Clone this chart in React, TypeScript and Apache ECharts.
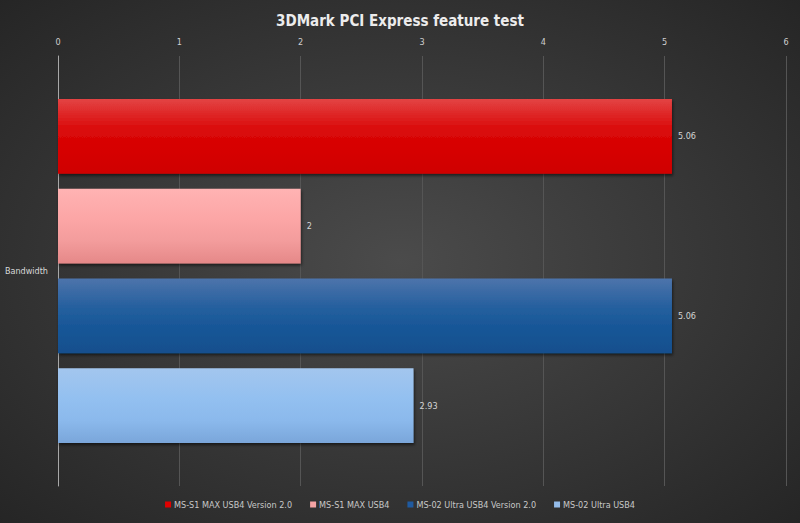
import React, { useEffect, useRef } from "react";
import * as echarts from "echarts";

const categories = ["Bandwidth"];
const seriesNames = [
  "MS-S1 MAX USB4 Version 2.0",
  "MS-S1 MAX USB4",
  "MS-02 Ultra USB4 Version 2.0",
  "MS-02 Ultra USB4",
];
const seriesValues = [[5.06], [2], [5.06], [2.93]];
const xTicks = [0, 1, 2, 3, 4, 5, 6];

const gradients = [
  ["#e34444", "#da0a0a", "#d60000", "#cf0000"],
  ["#ffb3b3", "#fca6a6", "#f39c9c", "#e58888"],
  ["#4d74ab", "#245f9e", "#155596", "#134f8d"],
  ["#a3c6ee", "#93c0f0", "#8bb9ec", "#7aa6da"],
];
const legendColors = ["#e00000", "#f4a3a3", "#1f5aa0", "#94bce9"];

const FONT = "'DejaVu Sans Condensed', 'Liberation Sans Narrow', 'DejaVu Sans', sans-serif";

export default function App() {
  const ref = useRef<HTMLDivElement>(null);
  useEffect(() => {
    if (!ref.current) return;
    const chart = echarts.init(ref.current, null, { renderer: "svg" });
    const series = seriesNames.map((name, i) => ({
      name,
      type: "bar",
      data: seriesValues[i],
      barGap: "20%",
      barCategoryGap: "20%",
      itemStyle: {
        color: new echarts.graphic.LinearGradient(0, 0, 0, 1, [
          { offset: 0, color: gradients[i][0] },
          { offset: 0.4, color: gradients[i][1] },
          { offset: 0.7, color: gradients[i][2] },
          { offset: 1, color: gradients[i][3] },
        ]),
        shadowColor: "rgba(0,0,0,0.55)",
        shadowBlur: 3,
        shadowOffsetY: 2,
        shadowOffsetX: 1,
      },
      label: {
        show: true,
        position: "right",
        distance: 6,
        color: "#d4d4d4",
        fontSize: 9,
        fontFamily: FONT,
      },
    }));
    chart.setOption({
      animation: false,
      backgroundColor: {
        type: "radial",
        x: 0.5,
        y: 0.5,
        r: 0.75,
        colorStops: [
          { offset: 0, color: "#4b4b4b" },
          { offset: 1, color: "#232323" },
        ],
      },
      title: {
        text: "3DMark PCI Express feature test",
        left: "center",
        top: 8,
        textStyle: {
          color: "#ececec",
          fontSize: 15,
          fontWeight: "bold",
          fontFamily: FONT,
        },
      },
      legend: {
        data: seriesNames.map((n, i) => ({ name: n, itemStyle: { color: legendColors[i] } })),
        bottom: 9,
        left: "center",
        icon: "rect",
        itemWidth: 6,
        itemHeight: 6,
        itemGap: 18,
        textStyle: { color: "#c8c8c8", fontSize: 9, fontFamily: FONT, padding: [0, 0, 0, -2] },
      },
      grid: { left: 58, right: 14, top: 56, bottom: 37, containLabel: false },
      xAxis: {
        type: "value",
        position: "top",
        min: xTicks[0],
        max: xTicks[xTicks.length - 1],
        interval: 1,
        axisLine: { show: false },
        axisTick: { show: false },
        axisLabel: { color: "#cfcfcf", fontSize: 9, fontFamily: FONT, margin: 10 },
        splitLine: { show: true, lineStyle: { color: "#555555", width: 1 } },
      },
      yAxis: {
        type: "category",
        data: categories,
        inverse: true,
        axisLine: { show: true, lineStyle: { color: "#a8a8a8", width: 1 } },
        axisTick: { show: false },
        axisLabel: { color: "#d8d8d8", fontSize: 9, fontFamily: FONT, margin: 10 },
      },
      series,
    });
    return () => chart.dispose();
  }, []);
  return <div ref={ref} style={{ width: 800, height: 523, position: "absolute", left: 0, top: 0 }} />;
}
